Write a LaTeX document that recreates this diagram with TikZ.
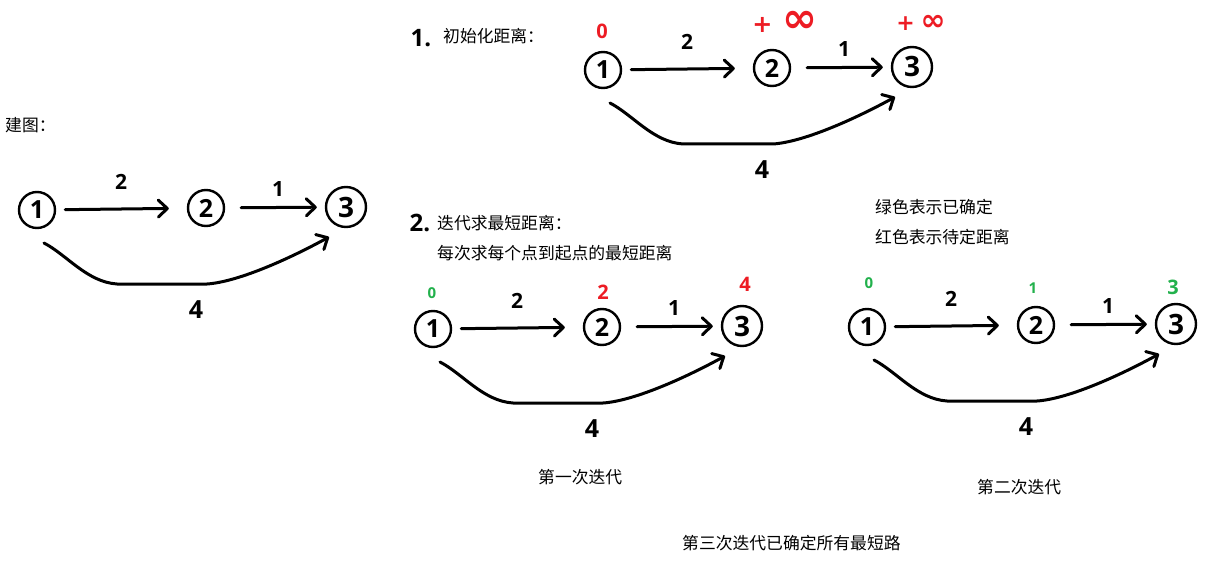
\documentclass[tikz,border=0pt]{standalone}
\usepackage{fontspec}
\setmainfont{Noto Sans CJK SC}
\newfontfamily\handfont{Open Sans}
\newfontfamily\symfont{DejaVu Sans}
\usetikzlibrary{arrows.meta,calc}
\definecolor{markred}{HTML}{ED1C24}
\definecolor{markgreen}{HTML}{22B14C}

\tikzset{
  vtx/.style={circle,draw,line width=2.4pt,minimum size=36pt,inner sep=0pt,
    font=\handfont\bfseries\fontsize{25}{25}\selectfont},
  vtxbig/.style={vtx,minimum size=40pt,font=\handfont\bfseries\fontsize{28}{28}\selectfont},
  edge/.style={line width=3pt,line cap=round,line join=round,
    -{Straight Barb[length=9pt,width=17pt,round]}},
  wlabel/.style={inner sep=0pt,font=\handfont\bfseries\fontsize{21}{21}\selectfont},
  wlabelbig/.style={inner sep=0pt,font=\handfont\bfseries\fontsize{25}{25}\selectfont},
  txt/.style={anchor=west,inner sep=0pt,font=\fontsize{16.8}{20}\selectfont},
  marknum/.style={inner sep=0pt,font=\handfont\bfseries\fontsize{20}{20}\selectfont},
  marksmall/.style={inner sep=0pt,font=\handfont\bfseries\fontsize{15}{15}\selectfont},
  headnum/.style={inner sep=0pt,font=\handfont\bfseries\fontsize{24}{24}\selectfont},
  infmark/.style={inner sep=0pt,text=markred,font=\symfont\bfseries},
  % one weighted graph: 1 -> 2 (2), 2 -> 3 (1), 1 -> 3 (4)
  pics/wgraph/.style={code={
    \node[vtx] (-n1) at (0,0) {1};
    \node[vtx] (-n2) at (169,-2) {2};
    \node[vtxbig] (-n3) at (309,-3) {3};
    \draw[edge,shorten <=9pt,shorten >=18pt] (-n1) -- (-n2);
    \draw[edge,shorten <=16pt,shorten >=8pt] (-n2) -- (-n3);
    \draw[edge] ($(-n1)+(7,33)$) .. controls (30,45) and (50,72) .. (80,74)
      -- (170,74) .. controls (200,72) and (250,50) .. ($(-n3)+(-17,30)$);
    \node[wlabel] (-w12) at (84,-28) {2};
    \node[wlabel] (-w23) at (241,-21) {1};
    \node[wlabelbig] (-w13) at (159,100) {4};
  }}
}

\begin{document}
\begin{tikzpicture}[x=1pt,y=-1pt]
\useasboundingbox[fill=white] (0,0) rectangle (1219,575);

% building the graph
\node[txt] (tbuild) at (5,125) {建图：};
\pic (A) at (37,210) {wgraph};

% step 1: initial distances
\node[headnum] (h1) at (421,38) {1.};
\node[txt] (tinit) at (443,36) {初始化距离：};
\pic (B) at (603,70) {wgraph};
\node[marknum,text=markred] (b0) at (602,31) {0};
\node[infmark] (binf2) at (785,22)
  {{\fontsize{24}{24}\selectfont+}\hspace{10pt}{\fontsize{42}{42}\selectfont ∞}};
\node[infmark] (binf3) at (921,23)
  {{\fontsize{22}{22}\selectfont+}\hspace{6pt}{\fontsize{30}{30}\selectfont ∞}};

% step 2: iterations
\node[headnum] (h2) at (420,223) {2.};
\node[txt] (titer) at (437,223) {迭代求最短距离：};
\node[txt] (teach) at (437,253) {每次求每个点到起点的最短距离};
\pic (C) at (433,329) {wgraph};
\node[marksmall,text=markgreen] (c0) at (432,293) {0};
\node[marknum,text=markred] (c2) at (603,292) {2};
\node[marknum,text=markred] (c4) at (745,284) {4};
\node[txt] (tfirst) at (538,477) {第一次迭代};

% legend
\node[txt] (tgreen) at (875,207) {绿色表示已确定};
\node[txt] (tred) at (875,237) {红色表示待定距离};

\pic (D) at (867,327) {wgraph};
\node[marksmall,text=markgreen] (d0) at (869,283) {0};
\node[marksmall,text=markgreen] (d1) at (1033,288) {1};
\node[marknum,text=markgreen] (d3) at (1173,287) {3};
\node[txt] (tsecond) at (977,487) {第二次迭代};

\node[txt] (tthird) at (682,543) {第三次迭代已确定所有最短路};
\end{tikzpicture}
\end{document}
